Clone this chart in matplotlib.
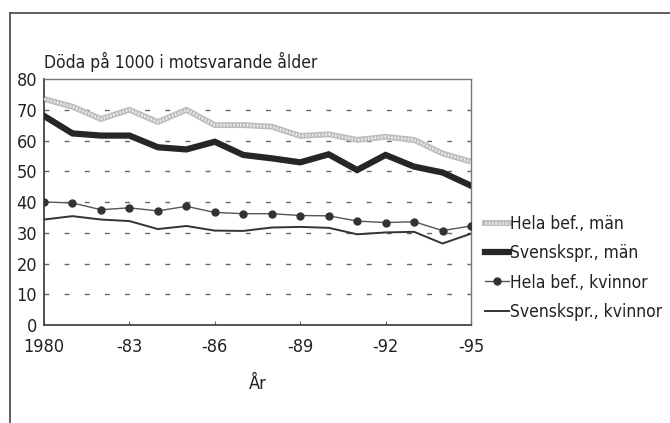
import numpy as np
import matplotlib
matplotlib.use('Agg')
from matplotlib import pyplot as plt
from matplotlib.lines import Line2D

plt.rcParams['font.family'] = ['DejaVu Sans']
plt.rcParams['font.stretch'] = 'condensed'

years = np.arange(1980, 1996)
tick_years = [1980, 1983, 1986, 1989, 1992, 1995]
tick_labels = ['1980', '-83', '-86', '-89', '-92', '-95']

hela_man = [73.5, 71.0, 67.0, 70.0, 66.0, 70.0, 65.0, 65.0, 64.5, 61.5,
            62.0, 60.2, 61.2, 60.2, 55.8, 53.1]
svensk_man = [68.0, 62.3, 61.6, 61.6, 57.8, 57.1, 59.6, 55.3, 54.2, 52.9,
              55.5, 50.4, 55.3, 51.5, 49.6, 45.3]
hela_kv = [40.0, 39.7, 37.5, 38.1, 37.1, 38.6, 36.6, 36.2, 36.2, 35.6,
           35.5, 33.8, 33.3, 33.6, 30.7, 32.2]
svensk_kv = [34.3, 35.4, 34.3, 33.8, 31.2, 32.2, 30.7, 30.6, 31.7, 31.9,
             31.6, 29.5, 30.1, 30.3, 26.5, 29.7]

labels = ['Hela bef., män', 'Svenskspr., män', 'Hela bef., kvinnor',
          'Svenskspr., kvinnor']

fig = plt.figure(figsize=(6.7, 4.23), dpi=100)
ax = fig.add_axes([44 / 670, 98 / 423, 427 / 670, 246 / 423])

# grid
for v in range(10, 80, 10):
    ax.axhline(v, color='#666666', lw=1.0, dashes=(3.5, 11), zorder=1)

# hatched grey line
ax.plot(years, hela_man, color='#bcbcbc', lw=4.2, solid_capstyle='butt', zorder=2)
ax.plot(years, hela_man, color='#ececec', lw=2.0, dashes=(0.6, 0.6), zorder=3)
ax.plot(years, svensk_man, color='#262626', lw=4.5, solid_joinstyle='miter', zorder=4)
ax.plot(years, hela_kv, color='#555555', lw=1.0, marker='o', ms=5,
        mfc='#333333', mec='#333333', zorder=4)
ax.plot(years, svensk_kv, color='#333333', lw=1.4, zorder=4)

ax.set_xlim(1980, 1995)
ax.set_ylim(0, 80)
ax.set_yticks(range(0, 81, 10))
ax.set_xticks(tick_years)
ax.set_xticklabels(tick_labels)
ax.tick_params(axis='y', length=0, pad=5, labelsize=13, colors='#222222')
ax.tick_params(axis='x', direction='in', length=3, pad=9, labelsize=13,
               colors='#222222', color='#666666')
for s in ['top', 'right']:
    ax.spines[s].set_color('#777777')
    ax.spines[s].set_linewidth(1.0)
for s in ['left', 'bottom']:
    ax.spines[s].set_color('#444444')
    ax.spines[s].set_linewidth(1.3)

ax.set_xlabel('År', fontsize=13, labelpad=14, color='#222222')
fig.text(44 / 670, 1 - 62 / 423, 'Döda på 1000 i motsvarande ålder',
         fontsize=12.5, va='center', ha='left', color='#222222')

# legend
handles = [
    (Line2D([], [], color='#bcbcbc', lw=4.2),
     Line2D([], [], color='#ececec', lw=2.0, dashes=(0.6, 0.6))),
    Line2D([], [], color='#262626', lw=4.5),
    Line2D([], [], color='#555555', lw=1.0, marker='o', ms=5,
           mfc='#333333', mec='#333333'),
    Line2D([], [], color='#333333', lw=1.4),
]
fig.legend(handles, labels, loc='upper left',
           bbox_to_anchor=(469 / 670, 1 - 199 / 423), frameon=False,
           fontsize=12.5, handlelength=1.4, handletextpad=0.05,
           labelspacing=0.66, labelcolor='#222222')

# outer frame
fig.add_artist(Line2D([10 / 670, 10 / 670], [0, 1 - 13 / 423],
                      transform=fig.transFigure, color='#444444', lw=1.2))
fig.add_artist(Line2D([10 / 670, 1], [1 - 13 / 423, 1 - 13 / 423],
                      transform=fig.transFigure, color='#444444', lw=1.2))

fig.savefig('out.png', dpi=100)
